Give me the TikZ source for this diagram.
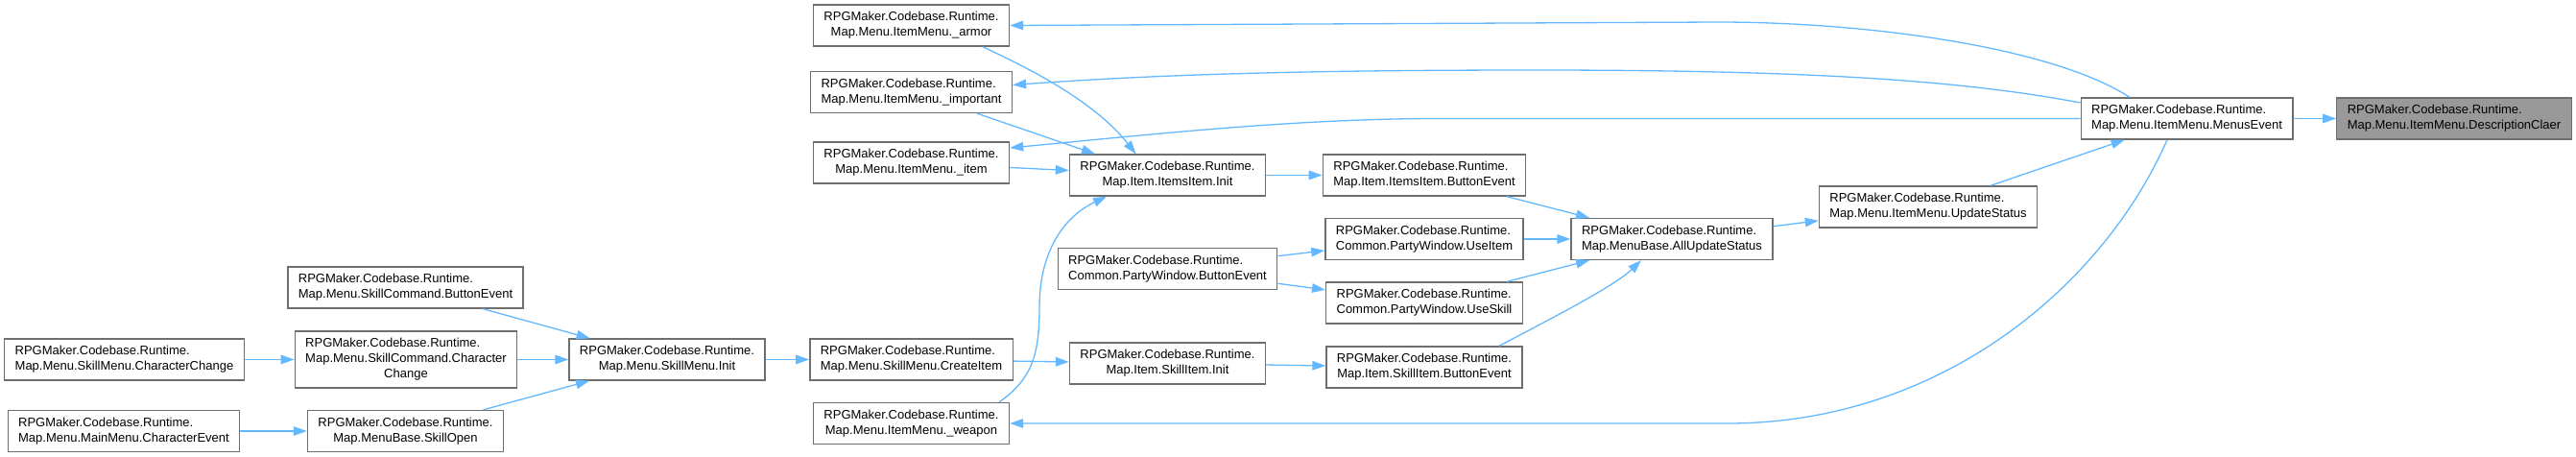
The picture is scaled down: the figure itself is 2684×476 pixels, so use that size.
\documentclass[tikz,border=0pt]{standalone}
\usepackage{fontspec}
\setmainfont{Liberation Sans}
\usepackage{tikz}
\usetikzlibrary{arrows.meta, calc}
\definecolor{edgecolor}{RGB}{99, 184, 255}
\definecolor{bordercolor}{RGB}{110, 110, 110}
\definecolor{highlightcolor}{RGB}{153, 153, 153}

\begin{document}
\begin{tikzpicture}[
    x=1pt, y=-1pt,
    % Node styles
    funcblock/.style={
        rectangle,
        draw=bordercolor,
        line width=1.3pt,
        fill=white,
        font=\fontsize{13}{16}\selectfont,
        text=black,
        align=center,
        inner xsep=11pt,
        inner ysep=5pt,
        minimum height=43pt,
    },
    funcblockl/.style={funcblock, align=left},
    hlblock/.style={funcblockl, fill=highlightcolor},
    % Edge style
    arrow/.style={-{Triangle[length=14pt, width=9.5pt]}, line width=1.3pt, edgecolor},
]
\useasboundingbox (0,0) rectangle (2684,476);

% ============================================================================
% RIGHT PART
% ============================================================================
\node[hlblock] (descclaer) at (2557,123.5) {RPGMaker.Codebase.Runtime.\\Map.Menu.ItemMenu.DescriptionClaer};
\node[funcblockl] (menusevent) at (2278.5,123.5) {RPGMaker.Codebase.Runtime.\\Map.Menu.ItemMenu.MenusEvent};
\node[funcblockl] (updatestatus) at (2009,215.5) {RPGMaker.Codebase.Runtime.\\Map.Menu.ItemMenu.UpdateStatus};
\node[funcblockl] (allupdate) at (1742,249) {RPGMaker.Codebase.Runtime.\\Map.MenuBase.AllUpdateStatus};

% ============================================================================
% ITEM / PARTY WINDOW
% ============================================================================
\node[funcblockl] (itemsbtn) at (1484,182.5) {RPGMaker.Codebase.Runtime.\\Map.Item.ItemsItem.ButtonEvent};
\node[funcblockl] (useitem) at (1484,249) {RPGMaker.Codebase.Runtime.\\Common.PartyWindow.UseItem};
\node[funcblockl] (useskill) at (1484,315.5) {RPGMaker.Codebase.Runtime.\\Common.PartyWindow.UseSkill};
\node[funcblock] (skillbtn) at (1484,382.5) {RPGMaker.Codebase.Runtime.\\Map.Item.SkillItem.ButtonEvent};

\node[funcblock] (itemsinit) at (1216.5,182.5) {RPGMaker.Codebase.Runtime.\\Map.Item.ItemsItem.Init};
\node[funcblockl] (partybtn) at (1216.5,280) {RPGMaker.Codebase.Runtime.\\Common.PartyWindow.ButtonEvent};
\node[funcblock] (skillinit) at (1216.5,378.5) {RPGMaker.Codebase.Runtime.\\Map.Item.SkillItem.Init};

% ============================================================================
% ITEM MENU
% ============================================================================
\node[funcblock] (armor) at (949.5,26.5) {RPGMaker.Codebase.Runtime.\\Map.Menu.ItemMenu.\_armor};
\node[funcblockl] (important) at (949.5,96) {RPGMaker.Codebase.Runtime.\\Map.Menu.ItemMenu.\_important};
\node[funcblock] (item) at (949.5,169.5) {RPGMaker.Codebase.Runtime.\\Map.Menu.ItemMenu.\_item};
\node[funcblockl] (createitem) at (949.5,374.5) {RPGMaker.Codebase.Runtime.\\Map.Menu.SkillMenu.CreateItem};
\node[funcblock] (weapon) at (949.5,441) {RPGMaker.Codebase.Runtime.\\Map.Menu.ItemMenu.\_weapon};

% ============================================================================
% SKILL MENU
% ============================================================================
\node[funcblock] (skillmenuinit) at (695,374.5) {RPGMaker.Codebase.Runtime.\\Map.Menu.SkillMenu.Init};
\node[funcblockl] (cmdbtn) at (422.5,299.5) {RPGMaker.Codebase.Runtime.\\Map.Menu.SkillCommand.ButtonEvent};
\node[funcblock, inner ysep=5.5pt, minimum height=59pt] (cmdchange) at (423,374.5) {\begin{tabular}{@{}l@{}}RPGMaker.Codebase.Runtime.\\Map.Menu.SkillCommand.Character\\\multicolumn{1}{@{}c@{}}{Change}\end{tabular}};
\node[funcblock] (skillopen) at (422.5,449) {RPGMaker.Codebase.Runtime.\\Map.MenuBase.SkillOpen};
\node[funcblockl] (charchange) at (129.5,374.5) {RPGMaker.Codebase.Runtime.\\Map.Menu.SkillMenu.CharacterChange};
\node[funcblockl] (charevent) at (129,449) {RPGMaker.Codebase.Runtime.\\Map.Menu.MainMenu.CharacterEvent};

% ============================================================================
% EDGES
% ============================================================================
\draw[arrow] (menusevent) -- (descclaer);
\draw[arrow] (updatestatus) -- (menusevent);
\draw[arrow] (allupdate) -- (updatestatus);

% MenusEvent -> ItemMenu
\draw[arrow] ($(menusevent.north)+(-59.5,0)$) .. controls (2140,50) and (1950,23) .. (1790,23) -- (armor.east);
\draw[arrow] ($(menusevent.west)+(0,-16.5)$) .. controls (2050,85) and (1900,73) .. (1600,73)
    .. controls (1350,73) and (1200,78) .. ($(important.east)+(0,-7.5)$);
\draw[arrow] (menusevent.west) -- (1500,123.5) .. controls (1350,123.5) and (1200,140) .. ($(item.east)+(0,-15.5)$);
\draw[arrow] ($(menusevent.south)+(-20.5,0)$) .. controls (2190,300) and (2020,441) .. (1800,441) -- (weapon.east);

% ItemMenu -> ItemsItem.Init
\draw[arrow] ($(armor.south)+(74,0)$) .. controls (1070,70) and (1140,105) .. ($(itemsinit.north)+(-33,0)$);
\draw[arrow] ($(important.south)+(68.5,0)$) -- ($(itemsinit.north)+(-75.5,0)$);
\draw[arrow] (item) -- (itemsinit);
\draw[arrow] ($(weapon.north)+(91.5,0)$) .. controls (1075,395) and (1083,370) .. (1083,320)
    .. controls (1083,260) and (1110,225) .. ($(itemsinit.south)+(-63.5,0)$);

% -> AllUpdateStatus
\draw[arrow] (itemsinit) -- (itemsbtn);
\draw[arrow] (itemsbtn) -- (allupdate);
\draw[arrow] (useitem) -- (allupdate);
\draw[arrow] (useskill) -- (allupdate);
\draw[arrow] ($(skillbtn.north)+(78,0)$) .. controls (1600,340) and (1680,300) .. ($(allupdate.south)+(-32,0)$);
\draw[arrow] (partybtn) -- (useitem);
\draw[arrow] (partybtn) -- (useskill);
\draw[arrow] (skillinit) -- (skillbtn);
\draw[arrow] (createitem) -- (skillinit);

% SkillMenu
\draw[arrow] (skillmenuinit) -- (createitem);
\draw[arrow] (cmdbtn) -- (skillmenuinit);
\draw[arrow] (cmdchange) -- (skillmenuinit);
\draw[arrow] (skillopen) -- (skillmenuinit);
\draw[arrow] (charchange) -- (cmdchange);
\draw[arrow] (charevent) -- (skillopen);

\end{tikzpicture}
\end{document}
